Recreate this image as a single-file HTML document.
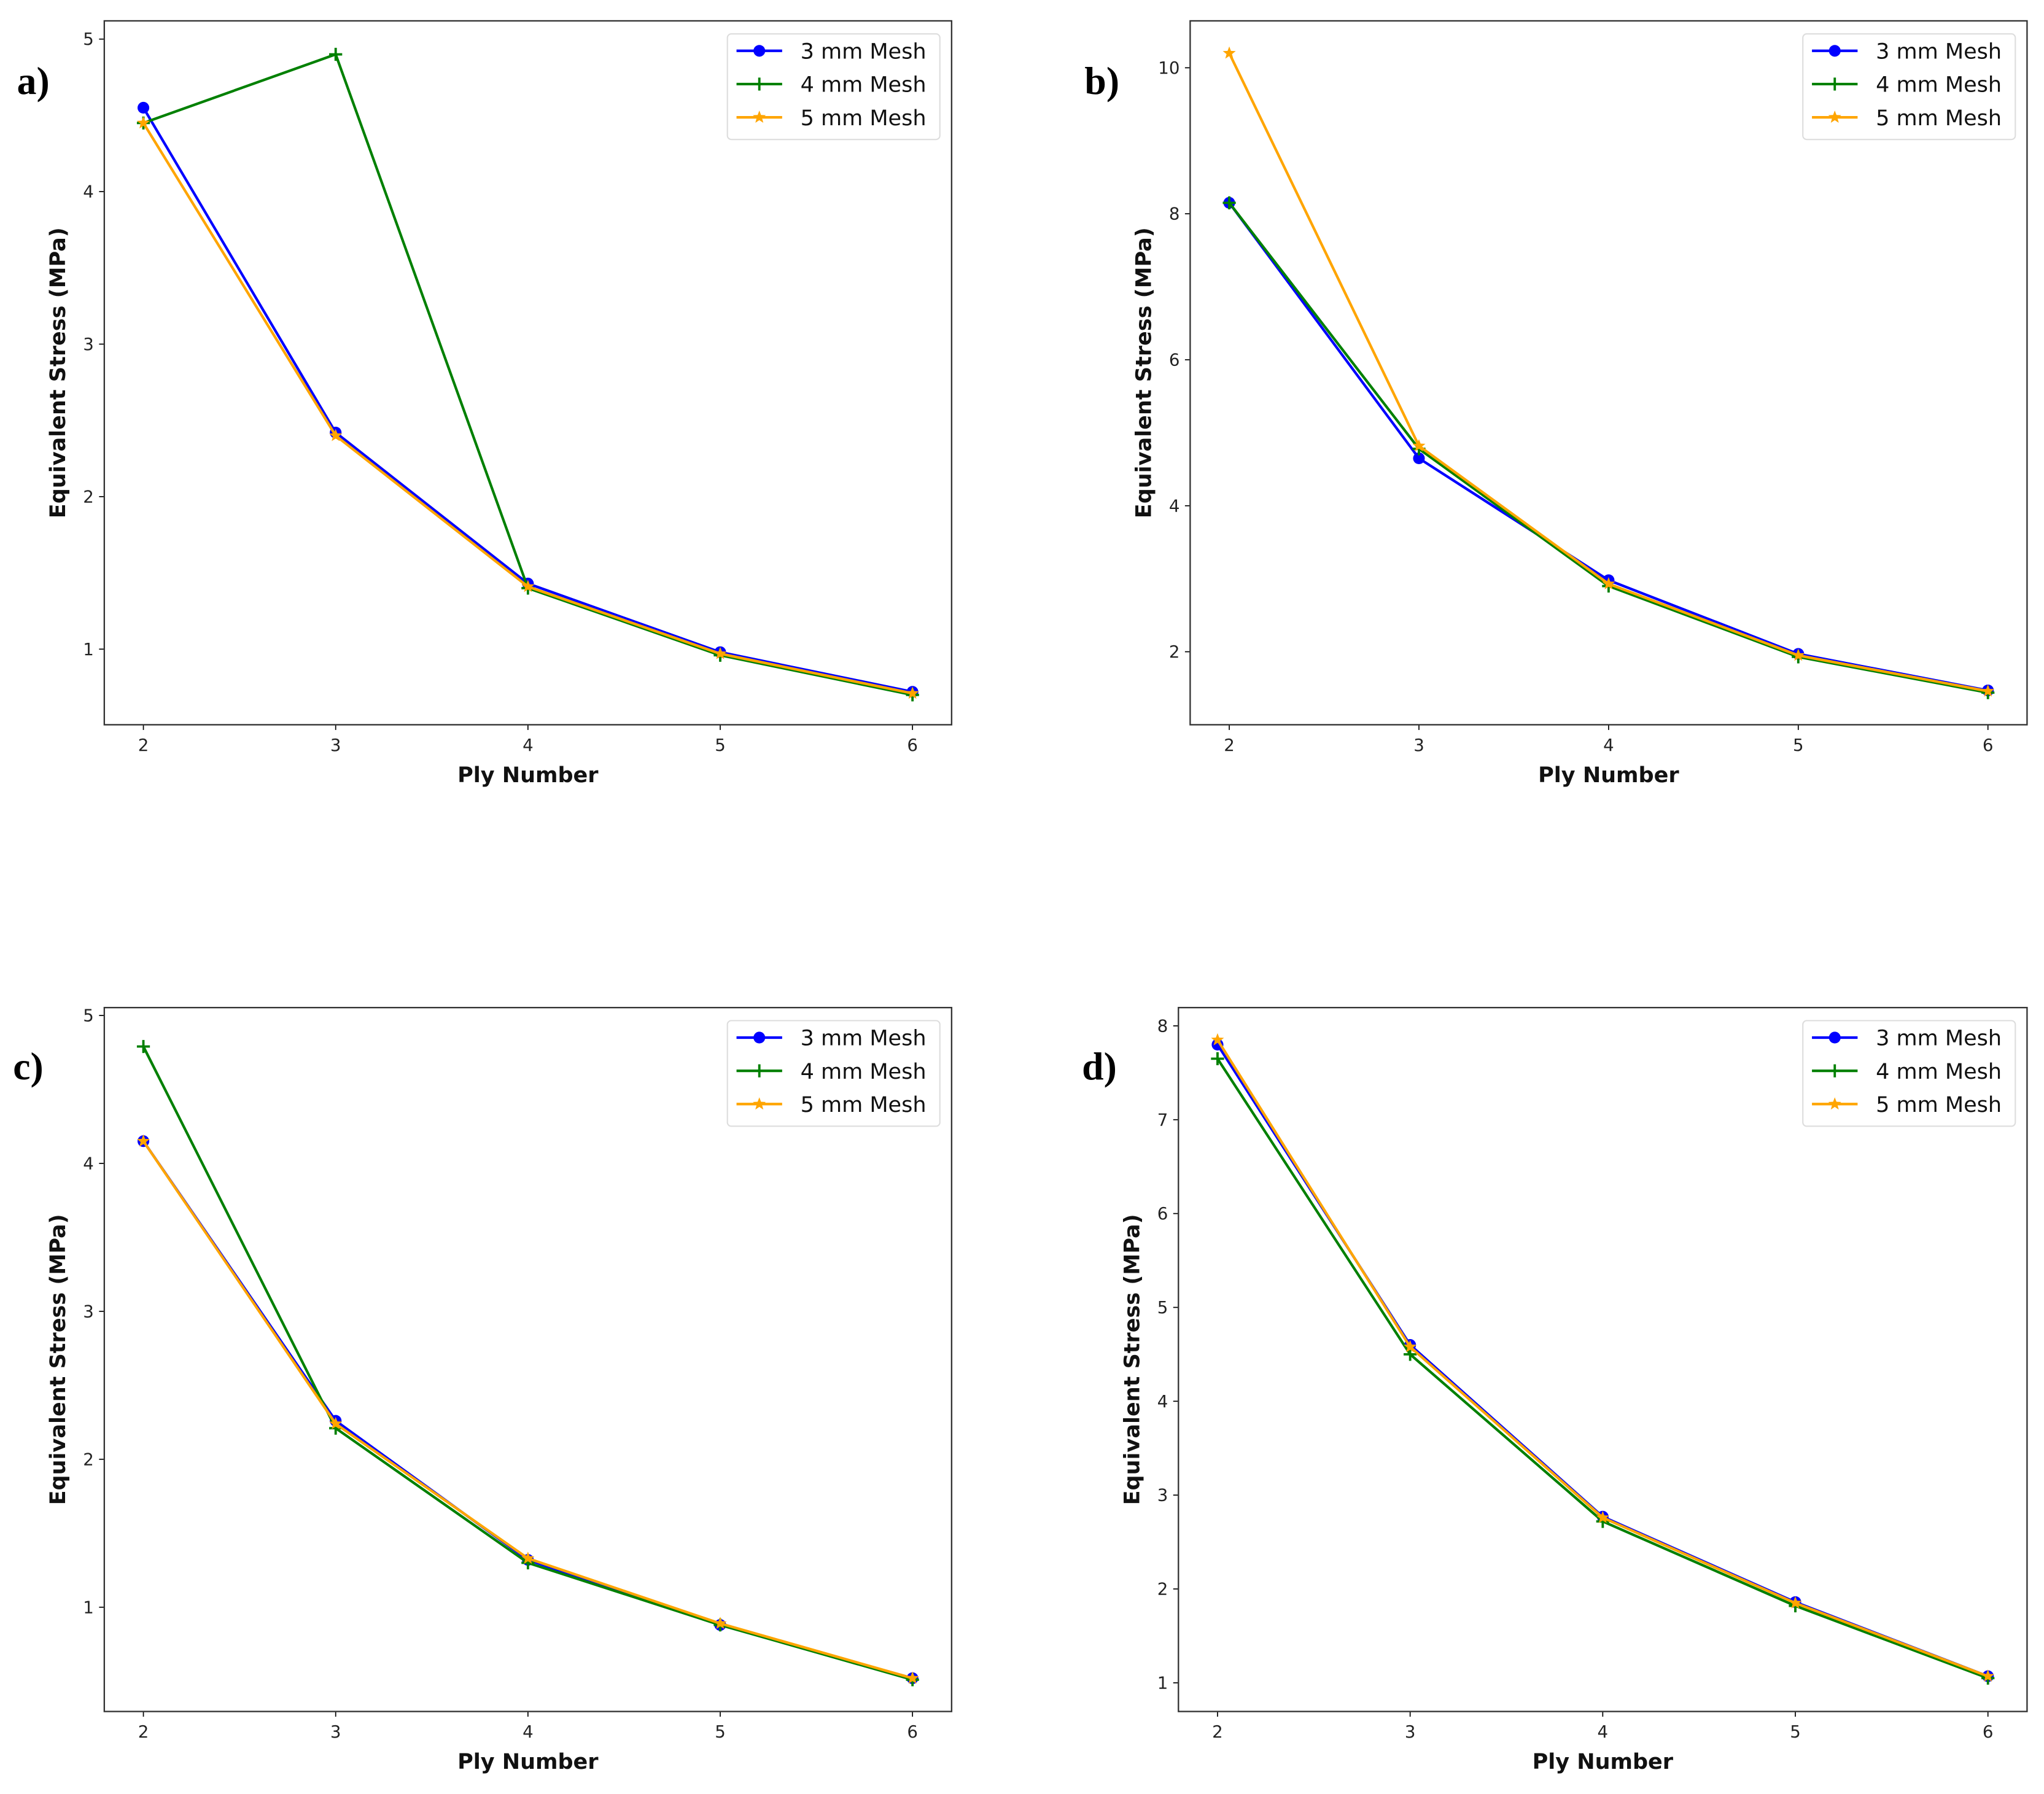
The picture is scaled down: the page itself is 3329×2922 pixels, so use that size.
<!DOCTYPE html>
<html><head><meta charset="utf-8"><style>
html,body{margin:0;padding:0;background:#fff}
svg{display:block}
text{font-family:"DejaVu Sans","Liberation Sans",sans-serif}
</style></head><body>
<svg id="fig" width="3329" height="2922" viewBox="0 0 1568 1376.3" xmlns="http://www.w3.org/2000/svg"></svg>
<script>
const plies = [2, 3, 4, 5, 6];
const seriesNames = ["3 mm Mesh", "4 mm Mesh", "5 mm Mesh"];
const a_mesh3 = [4.55, 2.42, 1.43, 0.98, 0.72];
const a_mesh4 = [4.45, 4.90, 1.40, 0.96, 0.70];
const a_mesh5 = [4.45, 2.40, 1.41, 0.97, 0.71];
const b_mesh3 = [8.15, 4.65, 2.98, 1.97, 1.47];
const b_mesh4 = [8.15, 4.78, 2.90, 1.93, 1.44];
const b_mesh5 = [10.2, 4.82, 2.93, 1.95, 1.46];
const c_mesh3 = [4.15, 2.26, 1.32, 0.88, 0.52];
const c_mesh4 = [4.79, 2.21, 1.30, 0.88, 0.51];
const c_mesh5 = [4.15, 2.24, 1.33, 0.89, 0.52];
const d_mesh3 = [7.80, 4.60, 2.77, 1.86, 1.07];
const d_mesh4 = [7.65, 4.50, 2.72, 1.82, 1.05];
const d_mesh5 = [7.85, 4.58, 2.76, 1.85, 1.07];
const a_yticks = [1, 2, 3, 4, 5];
const b_yticks = [2, 4, 6, 8, 10];
const c_yticks = [1, 2, 3, 4, 5];
const d_yticks = [1, 2, 3, 4, 5, 6, 7, 8];

const NS = "http://www.w3.org/2000/svg";
const svg = document.getElementById("fig");
function mk(tag, attrs, parent) {
  const e = document.createElementNS(NS, tag);
  for (const k in attrs) e.setAttribute(k, attrs[k]);
  (parent || svg).appendChild(e);
  return e;
}
const colors = ["#0000ff", "#008000", "#ffa500"];

function marker(g, kind, x, y, color) {
  let m;
  if (kind === 0) {
    m = mk("circle", {cx: x, cy: y, r: 4.5, fill: color}, g);
  } else if (kind === 1) {
    m = mk("path", {d: `M${x-5},${y}H${x+5}M${x},${y-5}V${y+5}`, stroke: color, "stroke-width": 1.8, fill: "none"}, g);
  } else {
    let pts = [];
    for (let i = 0; i < 10; i++) {
      const r = i % 2 ? 2.2 : 5.2, ang = -Math.PI / 2 + i * Math.PI / 5;
      pts.push((x + r * Math.cos(ang)).toFixed(2) + "," + (y + r * Math.sin(ang)).toFixed(2));
    }
    m = mk("polygon", {points: pts.join(" "), fill: color}, g);
  }
  
  
}

function panel(p) {
  const g = mk("g", {});
  
  
  const xs = v => p.x2px[0] + (v - 2) / 4 * (p.x2px[1] - p.x2px[0]);
  const ys = v => p.ypx[0] + (v - p.yv[0]) / (p.yv[1] - p.yv[0]) * (p.ypx[1] - p.ypx[0]);
  plies.forEach(v => {
    const x = xs(v);
    const t = mk("line", {x1: x, x2: x, y1: p.B, y2: p.B + 4, stroke: "#000", "stroke-width": 0.8}, g);
    
    
    const tx = mk("text", {x: x, y: p.B + 20, "font-size": 13, "text-anchor": "middle", fill: "#222"}, g);
    tx.textContent = v;
    
    
  });
  p.yticks.forEach(v => {
    const y = ys(v);
    const t = mk("line", {x1: p.L - 4, x2: p.L, y1: y, y2: y, stroke: "#000", "stroke-width": 0.8}, g);
    
    
    const tx = mk("text", {x: p.L - 8, y: y + 4.5, "font-size": 13, "text-anchor": "end", fill: "#222"}, g);
    tx.textContent = v;
    
    
  });
  p.series.forEach((arr, si) => {
    const sg = mk("g", {}, g);
    
    
    const d = arr.map((v, i) => (i ? "L" : "M") + xs(plies[i]).toFixed(2) + "," + ys(v).toFixed(2)).join("");
    const ln = mk("path", {d: d, stroke: colors[si], "stroke-width": 2, fill: "none", "stroke-linejoin": "round"}, sg);
    
    
    arr.forEach((v, i) => marker(sg, si, xs(plies[i]), ys(v), colors[si]));
  });
  const fr = mk("rect", {x: p.L, y: p.T, width: p.R - p.L, height: p.B - p.T, fill: "none", stroke: "#333", "stroke-width": 1.1}, g);
  
  
  const xl = mk("text", {x: (p.L + p.R) / 2, y: p.B + 44, "font-size": 16.5, "font-weight": "bold", "text-anchor": "middle", fill: "#111"}, g);
  xl.textContent = "Ply Number";
  
  
  const yc = (p.T + p.B) / 2, yx = p.L - 30;
  const yl = mk("text", {x: yx, y: yc, "font-size": 16.5, "font-weight": "bold", "text-anchor": "middle", fill: "#111", transform: `rotate(-90 ${yx} ${yc})`}, g);
  yl.textContent = "Equivalent Stress (MPa)";
  
  
  const pl = mk("text", {x: p.lx, y: p.ly, fill: "#000", style: "font-family:'Liberation Serif',serif;font-size:30px;font-weight:bold"}, g);
  pl.textContent = p.label + ")";
  
  
  const lg = mk("g", {}, g);
  
  
  const lb = mk("rect", {x: p.R - 172, y: p.T + 10, width: 163, height: 81, rx: 3, fill: "#fff", stroke: "#ddd", "stroke-width": 1}, lg);
  
  
  seriesNames.forEach((n, i) => {
    const ey = p.T + 23 + i * 25.5, ex = p.R - 165;
    const eg = mk("g", {}, lg);
    
    
    mk("line", {x1: ex, x2: ex + 35, y1: ey, y2: ey, stroke: colors[i], "stroke-width": 2}, eg);
    marker(eg, i, ex + 17.5, ey, colors[i]);
    const t = mk("text", {x: ex + 49, y: ey + 6, "font-size": 16.5, fill: "#111"}, eg);
    t.textContent = n;
  });
}

panel({label: "a", L: 80, R: 730, T: 16, B: 556, x2px: [110, 700], yv: [1, 5], ypx: [498, 30], yticks: a_yticks, series: [a_mesh3, a_mesh4, a_mesh5], lx: 13, ly: 72});
panel({label: "b", L: 913, R: 1555, T: 16, B: 556, x2px: [943, 1525], yv: [2, 10], ypx: [500, 52], yticks: b_yticks, series: [b_mesh3, b_mesh4, b_mesh5], lx: 832, ly: 72});
panel({label: "c", L: 80, R: 730, T: 773, B: 1313, x2px: [110, 700], yv: [1, 5], ypx: [1233, 779], yticks: c_yticks, series: [c_mesh3, c_mesh4, c_mesh5], lx: 10, ly: 828});
panel({label: "d", L: 904, R: 1555, T: 773, B: 1313, x2px: [934, 1525], yv: [1, 8], ypx: [1291, 787], yticks: d_yticks, series: [d_mesh3, d_mesh4, d_mesh5], lx: 830, ly: 828});
</script>
</body></html>
